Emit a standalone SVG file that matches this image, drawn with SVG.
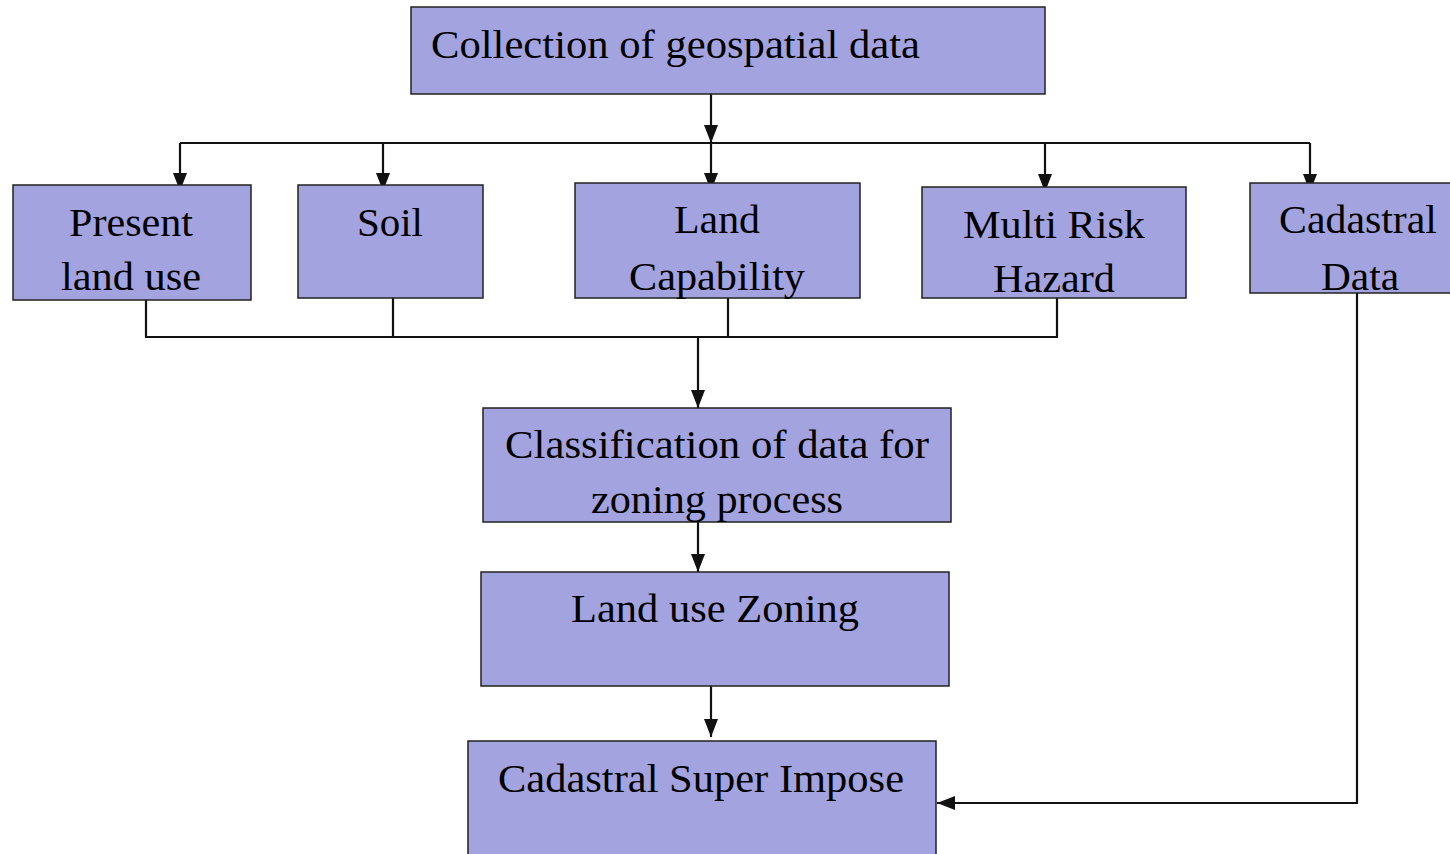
<svg xmlns="http://www.w3.org/2000/svg" width="1450" height="854" viewBox="0 0 1450 854">
<defs>
<style>
.box{fill:#A3A3DF;stroke:#222;stroke-width:1.5}
.t{font-family:"Liberation Serif","Times New Roman",serif;font-size:41px;fill:#000;text-anchor:middle}
.tl{font-family:"Liberation Serif","Times New Roman",serif;font-size:41px;fill:#000}
.c{fill:none;stroke:#111;stroke-width:2.2}
</style>
<marker id="ah" viewBox="0 0 18 14" refX="18" refY="7" markerWidth="18" markerHeight="14" markerUnits="userSpaceOnUse" orient="auto">
<path d="M0,0 L18,7 L0,14 Z" fill="#111"/>
</marker>
</defs>
<rect width="1450" height="854" fill="#fff"/>
<g id="connectors">
<path class="c" d="M711,94 V143" marker-end="url(#ah)"/>
<path class="c" d="M180,143 H1310"/>
<path class="c" d="M180,143 V191" marker-end="url(#ah)"/>
<path class="c" d="M383,143 V191" marker-end="url(#ah)"/>
<path class="c" d="M711,143 V191" marker-end="url(#ah)"/>
<path class="c" d="M1045,143 V192" marker-end="url(#ah)"/>
<path class="c" d="M1310,143 V192" marker-end="url(#ah)"/>
<path class="c" d="M146,300 V337 H1057 V298"/>
<path class="c" d="M393,298 V337"/>
<path class="c" d="M728,298 V337"/>
<path class="c" d="M698,337 V408" marker-end="url(#ah)"/>
<path class="c" d="M698,522 V572" marker-end="url(#ah)"/>
<path class="c" d="M711,686 V737" marker-end="url(#ah)"/>
<path class="c" d="M1357,293 V803 H937" marker-end="url(#ah)"/>
</g>
<g id="collection">
<rect class="box" x="411" y="7" width="634" height="87"/>
<text class="tl" x="431" y="58" textLength="489" lengthAdjust="spacingAndGlyphs">Collection of geospatial data</text>
</g>
<g id="present-land-use">
<rect class="box" x="13" y="185" width="238" height="115"/>
<text class="t" x="131" y="236" textLength="124" lengthAdjust="spacingAndGlyphs">Present</text>
<text class="t" x="131" y="290" textLength="140" lengthAdjust="spacingAndGlyphs">land use</text>
</g>
<g id="soil">
<rect class="box" x="298" y="185" width="185" height="113"/>
<text class="t" x="390" y="236" textLength="66" lengthAdjust="spacingAndGlyphs">Soil</text>
</g>
<g id="land-capability">
<rect class="box" x="575" y="183" width="285" height="115"/>
<text class="t" x="717" y="233" textLength="86" lengthAdjust="spacingAndGlyphs">Land</text>
<text class="t" x="717" y="290" textLength="176" lengthAdjust="spacingAndGlyphs">Capability</text>
</g>
<g id="multi-risk-hazard">
<rect class="box" x="922" y="187" width="264" height="111"/>
<text class="t" x="1054" y="238" textLength="182" lengthAdjust="spacingAndGlyphs">Multi Risk</text>
<text class="t" x="1054" y="292" textLength="122" lengthAdjust="spacingAndGlyphs">Hazard</text>
</g>
<g id="cadastral-data">
<rect class="box" x="1250" y="183" width="210" height="110"/>
<text class="t" x="1358" y="233" textLength="158" lengthAdjust="spacingAndGlyphs">Cadastral</text>
<text class="t" x="1360" y="290" textLength="78" lengthAdjust="spacingAndGlyphs">Data</text>
</g>
<g id="classification">
<rect class="box" x="483" y="408" width="468" height="114"/>
<text class="t" x="717" y="458" textLength="424" lengthAdjust="spacingAndGlyphs">Classification of data for</text>
<text class="t" x="717" y="513" textLength="252" lengthAdjust="spacingAndGlyphs">zoning process</text>
</g>
<g id="land-use-zoning">
<rect class="box" x="481" y="572" width="468" height="114"/>
<text class="t" x="715" y="622" textLength="288" lengthAdjust="spacingAndGlyphs">Land use Zoning</text>
</g>
<g id="cadastral-super-impose">
<rect class="box" x="468" y="741" width="468" height="125"/>
<text class="t" x="701" y="792" textLength="406" lengthAdjust="spacingAndGlyphs">Cadastral Super Impose</text>
</g>
</svg>
